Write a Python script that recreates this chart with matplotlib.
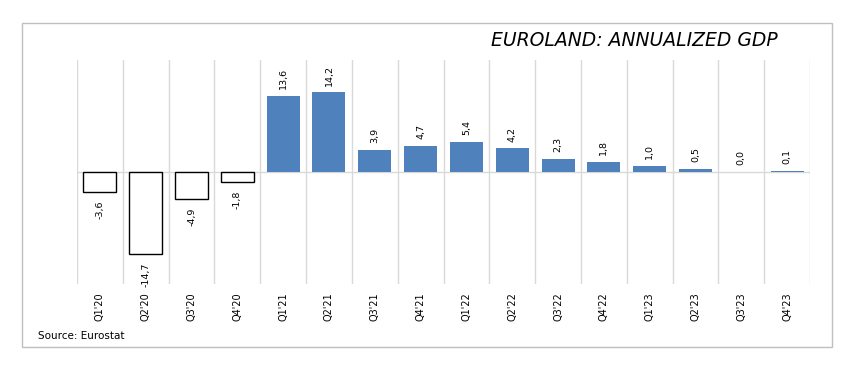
import matplotlib.pyplot as plt
from matplotlib.patches import Rectangle
import numpy as np

quarters = ["Q1'20", "Q2'20", "Q3'20", "Q4'20", "Q1'21", "Q2'21", "Q3'21", "Q4'21",
            "Q1'22", "Q2'22", "Q3'22", "Q4'22", "Q1'23", "Q2'23", "Q3'23", "Q4'23"]
gdp = [-3.6, -14.7, -4.9, -1.8, 13.6, 14.2, 3.9, 4.7,
       5.4, 4.2, 2.3, 1.8, 1.0, 0.5, 0.0, 0.1]

BLUE = "#4f81bd"
GRID = "#d9d9d9"

fig = plt.figure(figsize=(8.5, 3.67), dpi=100)
ax = fig.add_axes([77 / 850, 1 - 284 / 367, 733 / 850, 224 / 367])

x = np.arange(len(quarters))
vals = np.array(gdp)
neg = vals < 0
ax.bar(x[~neg], vals[~neg], width=0.72, color=BLUE, zorder=3)
ax.bar(x[neg], vals[neg], width=0.72, facecolor="white", edgecolor="black",
       linewidth=1.0, zorder=3)

# value labels, rotated like the original
for xi, v in zip(x, vals):
    lbl = f"{v:.1f}".replace(".", ",")
    if v < 0:
        ax.annotate(lbl, (xi, v), xytext=(0, -6), textcoords="offset points",
                    rotation=90, ha="center", va="top", fontsize=6.8)
    else:
        ax.annotate(lbl, (xi, v), xytext=(0, 5), textcoords="offset points",
                    rotation=90, ha="center", va="bottom", fontsize=6.8)

# category separators and zero line
for b in np.arange(-0.5, len(quarters), 1.0):
    ax.axvline(b, color=GRID, linewidth=1.0, zorder=1)
ax.axhline(0, color=GRID, linewidth=1.0, zorder=2)

ax.set_xlim(-0.5, len(quarters) - 0.5)
ax.set_ylim(-20, 20)
ax.set_xticks(x)
ax.set_xticklabels(quarters, rotation=90, fontsize=7)
ax.tick_params(axis="x", length=0, pad=6)
ax.set_yticks([])
for s in ax.spines.values():
    s.set_visible(False)

fig.text(778 / 850, 1 - 40 / 367, "EUROLAND: ANNUALIZED GDP", ha="right", va="center",
         fontsize=13.5, style="italic", family="DejaVu Sans")
fig.text(38 / 850, 1 - 336 / 367, "Source: Eurostat", ha="left", va="center",
         fontsize=7.5)

fig.add_artist(Rectangle((22 / 850, 1 - 347 / 367), 810 / 850, 324 / 367,
                         transform=fig.transFigure, fill=False,
                         edgecolor="#bfbfbf", linewidth=1.0))

fig.savefig("out.png", dpi=100)
